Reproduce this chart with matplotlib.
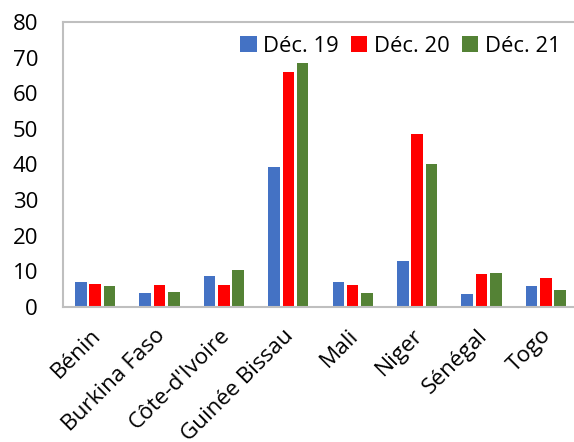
import numpy as np
import matplotlib.pyplot as plt
from matplotlib.transforms import ScaledTranslation

pays = ["Bénin", "Burkina Faso", "Côte-d'Ivoire", "Guinée Bissau", "Mali", "Niger", "Sénégal", "Togo"]
dec19 = [6.9, 3.8, 8.7, 39.4, 7.0, 12.9, 3.6, 6.0]
dec20 = [6.5, 6.1, 6.2, 66.1, 6.2, 48.7, 9.2, 8.2]
dec21 = [6.0, 4.2, 10.4, 68.4, 3.8, 40.0, 9.5, 4.8]

plt.rcParams['font.family'] = ['Open Sans', 'DejaVu Sans']

def main():
    fig = plt.figure(figsize=(5.74, 4.42), dpi=100)
    ax = fig.add_axes([63 / 574, 1 - 307 / 442, 515 / 574, 285 / 442])

    x = np.arange(len(pays))
    w = 0.18
    step = 0.222
    ax.bar(x - step, dec19, w, color='#4472C4', label='Déc. 19')
    ax.bar(x, dec20, w, color='#FF0000', label='Déc. 20')
    ax.bar(x + step, dec21, w, color='#548235', label='Déc. 21')

    ax.set_xlim(-0.5, len(pays) - 0.5)
    ax.set_ylim(0, 80)
    ax.set_yticks(range(0, 81, 10))
    ax.set_xticks(x)
    ax.set_xticklabels(pays, rotation=45, ha='right', rotation_mode='anchor')
    ax.tick_params(axis='both', length=0, colors='black')
    ax.tick_params(axis='y', pad=18, labelsize=16)
    ax.tick_params(axis='x', pad=13, labelsize=16.2)
    shift = ScaledTranslation(-5 / 100, 0, fig.dpi_scale_trans)
    for lab in ax.get_xticklabels():
        lab.set_transform(lab.get_transform() + shift)

    for s in ax.spines.values():
        s.set_color('#BFBFBF')
        s.set_linewidth(1.5)
    ax.spines['right'].set_visible(False)

    ax.legend(loc='center', bbox_to_anchor=(0.655, 0.915), ncol=3, frameon=False,
              fontsize=15.8, handlelength=0.75, handleheight=0.75, handletextpad=0.3,
              columnspacing=0.55, borderpad=0)

    fig.savefig("out.png", dpi=100)

if __name__ == '__main__':
    main()
